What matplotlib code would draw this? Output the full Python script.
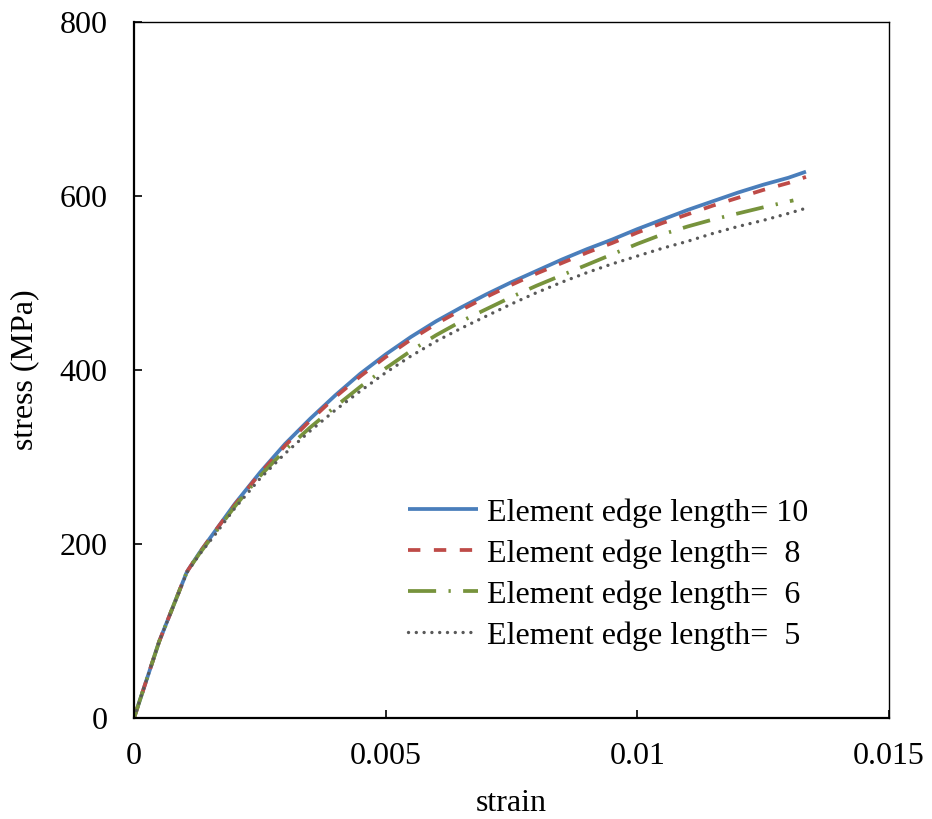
import matplotlib
matplotlib.use("Agg")
import matplotlib.pyplot as plt

plt.rcParams['font.family'] = ['Liberation Serif', 'DejaVu Serif']

# Data
strain_10 = [0, 0.0005, 0.00105, 0.0013, 0.0016, 0.002, 0.0025, 0.003, 0.0035, 0.004,
             0.0045, 0.005, 0.0055, 0.006, 0.0065, 0.007, 0.0075, 0.008, 0.0085, 0.009,
             0.0095, 0.01, 0.0105, 0.011, 0.0115, 0.012, 0.0125, 0.013, 0.01335]
stress_10 = [0, 88, 168, 190, 214, 246, 282, 315, 344, 371, 396, 418, 438, 456, 472,
             487, 501, 514, 527, 539, 550, 562, 573, 584, 594, 604, 613, 621, 628]

strain_8 = [0, 0.0005, 0.00105, 0.0013, 0.0016, 0.002, 0.0025, 0.003, 0.0035, 0.004,
            0.0045, 0.005, 0.0055, 0.006, 0.0065, 0.007, 0.0075, 0.008, 0.0085, 0.009,
            0.0095, 0.01, 0.0105, 0.011, 0.0115, 0.012, 0.0125, 0.013, 0.01335]
stress_8 = [0, 88, 168, 190, 214, 245, 281, 313, 342, 369, 393, 415, 435, 453, 469,
            484, 498, 511, 523, 535, 546, 558, 569, 579, 589, 598, 607, 615, 622]

strain_6 = [0, 0.0005, 0.00105, 0.0013, 0.0016, 0.002, 0.0025, 0.003, 0.0035, 0.004,
            0.0045, 0.005, 0.0055, 0.006, 0.0065, 0.007, 0.0075, 0.008, 0.0085, 0.009,
            0.0095, 0.01, 0.0105, 0.011, 0.0115, 0.012, 0.0125, 0.0131]
stress_6 = [0, 88, 168, 189, 212, 243, 278, 308, 334, 358, 381, 402, 422, 440, 456,
            470, 484, 497, 509, 521, 533, 545, 556, 565, 573, 580, 587, 595]

strain_5 = [0, 0.0005, 0.00105, 0.0013, 0.0016, 0.002, 0.0025, 0.003, 0.0035, 0.004,
            0.0045, 0.005, 0.0055, 0.006, 0.0065, 0.007, 0.0075, 0.008, 0.0085, 0.009,
            0.0095, 0.01, 0.0105, 0.011, 0.0115, 0.012, 0.0125, 0.013, 0.01335]
stress_5 = [0, 88, 167, 188, 210, 241, 275, 304, 330, 354, 376, 397, 416, 433, 448,
            462, 476, 489, 501, 512, 522, 531, 540, 548, 557, 565, 572, 580, 586]

labels = ['Element edge length= 10', 'Element edge length=  8',
          'Element edge length=  6', 'Element edge length=  5']

fig = plt.figure(figsize=(9.32, 8.19), dpi=100)
ax = fig.add_axes([0.1438, 0.1233, 0.8101, 0.8498])

lw = 2.7
ax.plot(strain_10, stress_10, color='#4A7EBB', lw=lw, label=labels[0],
        solid_capstyle='butt', solid_joinstyle='round')
ax.plot(strain_8, stress_8, color='#BE4B48', lw=lw, label=labels[1],
        dashes=[3.3, 3.6], dash_capstyle='butt')
ax.plot(strain_6, stress_6, color='#77933C', lw=lw, label=labels[2],
        dashes=[7.5, 3.3, 0.6, 3.3], dash_capstyle='butt')
ax.plot(strain_5, stress_5, color='#595959', lw=lw * 0.9, label=labels[3],
        dashes=[0.01, 2.3], dash_capstyle='round')

ax.set_xlim(0, 0.015)
ax.set_ylim(0, 800)
ax.set_xticks([0, 0.005, 0.01, 0.015])
ax.set_xticklabels(['0', '0.005', '0.01', '0.015'])
ax.set_yticks([0, 200, 400, 600, 800])

fs = 23
ax.tick_params(axis='both', direction='in', length=6, width=1.2, labelsize=fs)
ax.tick_params(axis='y', pad=19)
ax.tick_params(axis='x', pad=17)

for s in ['left', 'bottom']:
    ax.spines[s].set_linewidth(1.6)
    ax.spines[s].set_color('black')
for s in ['top', 'right']:
    ax.spines[s].set_linewidth(1.0)
    ax.spines[s].set_color('black')

ax.set_xlabel('strain', fontsize=fs, labelpad=13)
ax.set_ylabel('stress (MPa)', fontsize=fs, labelpad=15)

ax.legend(loc='upper left', bbox_to_anchor=(0.363, 0.316), frameon=False,
          fontsize=fs, handlelength=2.2, handletextpad=0.28,
          labelspacing=0.36, borderpad=0, borderaxespad=0)

fig.savefig('out.png', dpi=100)
